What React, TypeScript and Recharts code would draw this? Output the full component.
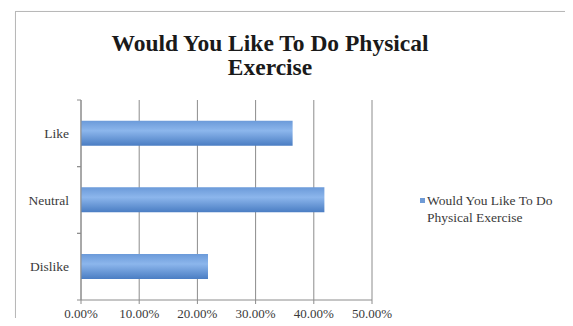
import React from 'react';
import { BarChart, Bar, XAxis, YAxis, CartesianGrid, Legend } from 'recharts';

const categories = ['Like', 'Neutral', 'Dislike'];
const shares = [0.3636, 0.4182, 0.2182];
const xTicks = [0, 0.1, 0.2, 0.3, 0.4, 0.5];
const seriesName = 'Would You Like To Do Physical Exercise';
const titleLines = ['Would You Like To Do Physical', 'Exercise'];

const data = categories.map((c, i) => ({ category: c, value: shares[i] }));

const serif = '"Liberation Serif", "Times New Roman", serif';
const LABEL_GAP = 12;

// Category label plus short tick marks on the band boundaries
const CategoryTick = (props: any) => {
  const { x, y, payload, height, visibleTicksCount } = props;
  const axisX = x + LABEL_GAP;
  let half = payload && typeof payload.offset === 'number' ? payload.offset : 0;
  if (!(half > 0) && height > 0 && visibleTicksCount > 0) half = height / visibleTicksCount / 2;
  return (
    <g>
      {half > 0 && (
        <>
          <line x1={axisX - 4} x2={axisX} y1={y - half} y2={y - half} stroke="#8c8c8c" />
          <line x1={axisX - 4} x2={axisX} y1={y + half} y2={y + half} stroke="#8c8c8c" />
        </>
      )}
      <text x={x} y={y} dy="0.35em" textAnchor="end" fill="#3a3a3a" fontFamily={serif} fontSize={13.5}>
        {payload.value}
      </text>
    </g>
  );
};

const LegendBox = () => (
  <div style={{ display: 'flex', alignItems: 'flex-start', fontFamily: serif, fontSize: 13.5, color: '#3a3a3a', lineHeight: '17px' }}>
    <span style={{ display: 'inline-block', width: 5, height: 5, background: '#6f9bd6', marginTop: 6, marginRight: 2, flex: 'none' }} />
    <span>Would You Like To Do<br />Physical Exercise</span>
  </div>
);

export default function App() {
  return (
    <div style={{ position: 'relative', width: 573, height: 326, margin: -8, background: '#fff', overflow: 'hidden' }}>
      <div style={{ position: 'absolute', left: 15, top: 11, width: 570, height: 330, border: '1px solid #b8b8b8', boxShadow: '1px 1px 2px #ccc' }} />
      <div style={{ position: 'absolute', left: 70, width: 400, top: 31, textAlign: 'center', fontFamily: serif, fontWeight: 'bold', fontSize: 23.5, lineHeight: '24px', color: '#1a1a1a' }}>
        {titleLines.map((t) => (<div key={t}>{t}</div>))}
      </div>
      <BarChart
        width={573}
        height={326}
        data={data}
        layout="vertical"
        margin={{ top: 100, right: 201, bottom: 0, left: 0 }}
        barCategoryGap="31%"
        style={{ position: 'absolute', left: 0, top: 0 }}
      >
        <defs>
          <linearGradient id="barFill" x1="0" y1="0" x2="0" y2="1">
            <stop offset="0%" stopColor="#6b9ad9" />
            <stop offset="40%" stopColor="#8cb6ec" />
            <stop offset="100%" stopColor="#4a7dc3" />
          </linearGradient>
        </defs>
        <CartesianGrid horizontal={false} stroke="#8c8c8c" />
        <XAxis
          type="number"
          domain={[0, 0.5]}
          ticks={xTicks}
          tickFormatter={(v: number) => `${(v * 100).toFixed(2)}%`}
          height={26}
          stroke="#8c8c8c"
          tickSize={4}
          tickMargin={5}
          tick={{ fill: '#3a3a3a', fontFamily: serif, fontSize: 13 }}
          interval={0}
        />
        <YAxis
          type="category"
          dataKey="category"
          width={81}
          stroke="#8c8c8c"
          tickSize={0}
          tickMargin={LABEL_GAP}
          tick={<CategoryTick />}
        />
        <Legend
          layout="vertical"
          align="center"
          verticalAlign="middle"
          content={() => <LegendBox />}
          wrapperStyle={{ left: 420, top: 192, width: 153 }}
        />
        <Bar dataKey="value" name={seriesName} fill="url(#barFill)" isAnimationActive={false} />
      </BarChart>
    </div>
  );
}
